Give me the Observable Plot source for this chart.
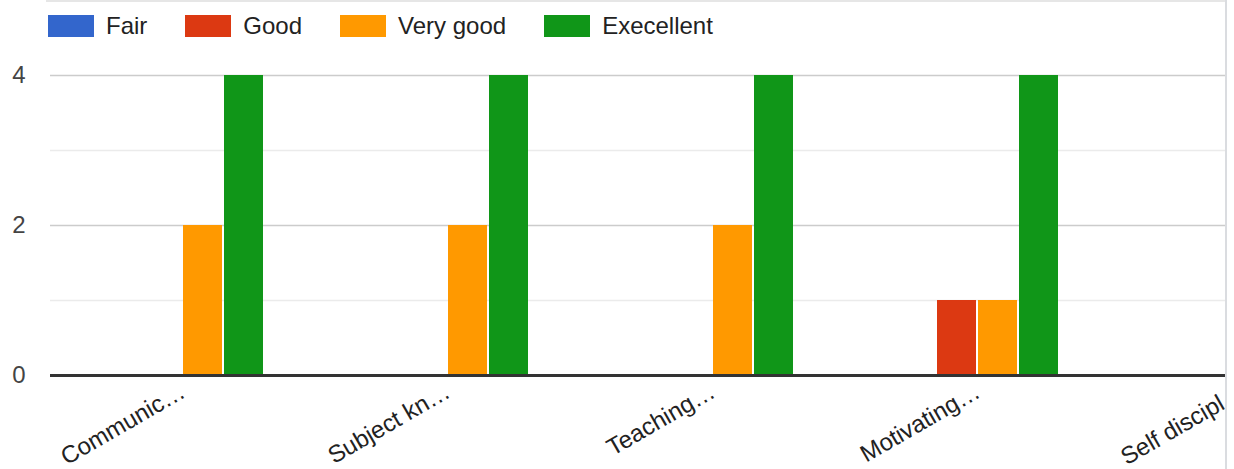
<!DOCTYPE html>
<html><head><meta charset="utf-8">
<script src="https://cdn.jsdelivr.net/npm/d3@7"></script>
<script src="https://cdn.jsdelivr.net/npm/@observablehq/plot@0.6"></script>
<style>
body{margin:0;background:#fff;font-family:"Liberation Sans",Arial,sans-serif;}
#wrap{position:relative;width:1225px;height:469px;overflow:hidden;border-right:2px solid #dadce0;}
#topline{position:absolute;left:46px;top:0;width:1181px;height:2px;background:#e6e6e6;z-index:2;}
#legend{position:absolute;left:48px;top:15px;display:flex;align-items:center;height:22px;font-size:24px;color:#222;z-index:2;}
.item{display:flex;align-items:center;margin-right:38px;white-space:nowrap;}
.sw{width:46px;height:22px;margin-right:12px;}
#chart{position:absolute;left:0;top:50px;width:1376px;}
#chart svg{max-width:none !important;}
</style></head>
<body>
<div id="wrap">
  <div id="topline"></div>
  <div id="legend"></div>
  <div id="chart"></div>
</div>
<script>
const categories = ["Communic…", "Subject kn…", "Teaching…", "Motivating…", "Self discipl…"];
const ratings = ["Fair", "Good", "Very good", "Execellent"];
const colors = ["#3366cc", "#dc3912", "#ff9900", "#109618"];
const fair = [0, 0, 0, 0, 0];
const good = [0, 0, 0, 1, 0];
const veryGood = [2, 2, 2, 1, 2];
const excellent = [4, 4, 4, 4, 4];
const yTickLabels = [0, 2, 4];
const yMajorGrid = [2, 4];
const yMinorGrid = [1, 3];

const series = [fair, good, veryGood, excellent];
const data = categories.flatMap((c, i) => ratings.map((r, j) => ({category: c, rating: r, value: series[j][i]})));

const legend = document.getElementById("legend");
ratings.forEach((r, i) => {
  const it = document.createElement("div");
  it.className = "item";
  const sw = document.createElement("div");
  sw.className = "sw";
  sw.style.background = colors[i];
  const tx = document.createElement("span");
  tx.textContent = r;
  it.appendChild(sw); it.appendChild(tx);
  legend.appendChild(it);
});

const chart = Plot.plot({
  width: 1376,
  height: 419,
  marginLeft: 48,
  marginRight: 0,
  marginTop: 25,
  marginBottom: 94,
  style: {fontFamily: '"Liberation Sans", Arial, sans-serif', fontSize: "24px", background: "white", overflow: "visible", maxWidth: "none"},
  fx: {domain: categories, padding: 0, label: null},
  x: {domain: ratings, paddingInner: 0.04, paddingOuter: 1.22, axis: null},
  y: {domain: [0, 4], axis: null},
  color: {domain: ratings, range: colors},
  marks: [
    Plot.ruleY(yMinorGrid, {stroke: "#ebebeb", strokeWidth: 1.5}),
    Plot.ruleY(yMajorGrid, {stroke: "#cccccc", strokeWidth: 1.5}),
    Plot.barY(data, {fx: "category", x: "rating", y: "value", fill: "rating"}),
    Plot.ruleY([0], {stroke: "#333333", strokeWidth: 3}),
    Plot.axisY({ticks: yTickLabels, tickFormat: d => String(d), tickSize: 0, tickPadding: 25, fontSize: 24, fill: "#444444", label: null}),
    Plot.axisFx({anchor: "bottom", tickSize: 0, tickPadding: 14, tickRotate: -30, fontSize: 24, fill: "#222222", label: null})
  ]
});
document.getElementById("chart").appendChild(chart);
</script>
</body></html>
